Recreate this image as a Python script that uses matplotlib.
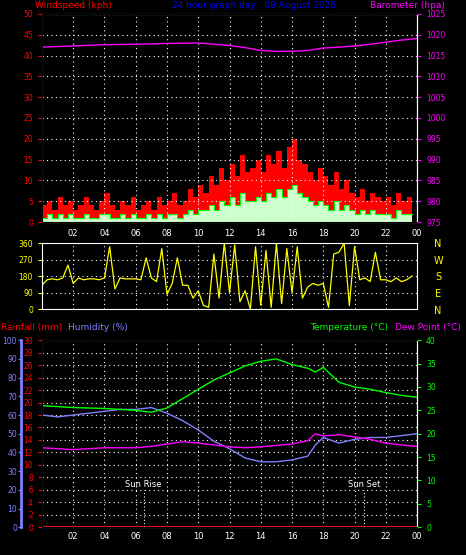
import numpy as np
import matplotlib.pyplot as plt

# --- data ---
hour_labels = ["02", "04", "06", "08", "10", "12", "14", "16", "18", "20", "22", "00"]
label_hours = [2, 4, 6, 8, 10, 12, 14, 16, 18, 20, 22, 24]

# wind, every 20 minutes (72 samples)
wind_gust = [4, 5, 3, 6, 4, 5, 3, 4, 6, 4, 3, 5, 7, 4, 3, 5, 4, 6,
             3, 4, 5, 3, 6, 4, 5, 7, 4, 5, 8, 6, 9, 7, 11, 9, 13, 10,
             14, 11, 16, 12, 13, 15, 12, 16, 14, 17, 13, 18, 20, 15, 14, 12, 10, 13,
             11, 9, 12, 8, 10, 7, 6, 8, 5, 7, 6, 5, 6, 4, 7, 5, 6, 5]
wind_avg = [1, 2, 1, 2, 1, 2, 1, 1, 2, 1, 1, 2, 2, 1, 1, 2, 1, 2,
            1, 1, 2, 1, 2, 1, 2, 2, 1, 2, 3, 2, 3, 3, 4, 3, 5, 4,
            6, 4, 7, 5, 5, 6, 5, 7, 6, 8, 6, 8, 9, 7, 6, 5, 4, 5,
            4, 3, 5, 3, 4, 3, 2, 3, 2, 3, 2, 2, 2, 1, 3, 2, 2, 2]
baro_hours = [0, 2, 4, 6, 8, 10, 12, 13, 14, 15, 16, 17, 18, 19, 20, 21, 22, 23, 24]
baro = [1017.0, 1017.3, 1017.6, 1017.7, 1017.9, 1018.0, 1017.4, 1016.9, 1016.2,
        1016.0, 1016.0, 1016.2, 1016.8, 1017.0, 1017.3, 1017.7, 1018.2, 1018.7, 1019.1]

# wind direction, every 20 minutes (72 samples)
wind_dir = [130, 160, 165, 160, 170, 240, 140, 170, 160, 165, 165, 160,
            170, 340, 110, 170, 165, 165, 165, 160, 280, 170, 150, 330,
            80, 140, 280, 130, 130, 60, 100, 20, 10, 300, 60, 360,
            90, 350, 40, 100, 0, 340, 20, 320, 10, 360, 30, 330,
            90, 340, 60, 120, 140, 130, 140, 10, 300, 310, 360, 20,
            340, 160, 170, 150, 310, 160, 160, 150, 170, 150, 160, 180]

met_hours = [0, 1, 2, 3, 4, 5, 6, 7, 8, 9, 10, 11, 12, 13, 14, 15, 16, 17,
             17.5, 18, 19, 20, 21, 22, 23, 24]
temperature = [26.0, 25.8, 25.6, 25.5, 25.4, 25.2, 25.0, 24.6, 25.5, 27.5, 29.5, 31.5,
               33.0, 34.5, 35.5, 36.0, 34.8, 34.0, 33.2, 34.2, 31.0, 30.0, 29.5, 28.8, 28.2, 27.8]
humidity = [60, 59, 60, 61, 62, 63, 63, 64, 61, 57, 52, 46,
            42, 37, 35, 35, 36, 38, 44, 48, 45, 47, 48, 48, 49, 50]
dew_point = [17.0, 16.8, 16.6, 16.8, 17.0, 17.0, 17.0, 17.3, 17.8, 18.3, 18.0, 17.6,
             17.2, 17.0, 17.2, 17.5, 17.8, 18.5, 20.0, 19.5, 19.8, 19.3, 18.8, 18.0, 17.6, 17.3]
rainfall = [0.0] * len(met_hours)
sun_rise = 6.5
sun_set = 20.6

plt.rcParams["font.family"] = "DejaVu Sans"
fig = plt.figure(figsize=(4.66, 5.55), dpi=100, facecolor="black")

RED, BLUE, MAG, GRN, YEL = "#ff0000", "#0000ff", "#ff00ff", "#00ff00", "#ffff00"
HUM = "#8080ff"


def style(ax, color_left):
    ax.set_facecolor("black")
    for s in ax.spines.values():
        s.set_color("white")
    ax.tick_params(axis="y", colors=color_left, labelsize=5.5, length=3)
    ax.tick_params(axis="x", colors="white", labelsize=6, length=0)
    ax.set_xlim(0, 24)
    ax.set_xticks(label_hours)
    ax.grid(True, color="white", linestyle=(0, (1, 3)), linewidth=0.8)


# --- top: wind + barometer ---
ax1 = fig.add_axes([0.09, 0.60, 0.805, 0.375])
style(ax1, RED)
t = np.arange(len(wind_gust)) / 3.0
ax1.fill_between(t, wind_gust, step="post", color=RED, lw=0)
ax1.fill_between(t, wind_avg, step="post", color="#ccffcc", lw=0)
ax1.step(t, wind_avg, where="post", color=GRN, lw=0.8)
ax1.set_ylim(0, 50)
ax1.set_yticks(range(0, 51, 5))
ax1.set_xticklabels([])
ax1b = ax1.twinx()
ax1b.plot(baro_hours, baro, color=MAG, lw=1)
ax1b.set_ylim(975, 1025)
ax1b.set_yticks(range(975, 1026, 5))
ax1b.tick_params(axis="y", colors=MAG, labelsize=5.5, length=3)
ax1b.spines["right"].set_color("white")
fig.text(0.075, 0.998, "Windspeed (kph)", color=RED, fontsize=6.5, va="top")
fig.text(0.37, 0.998, "24 hour graph day : 08 August 2026", color=BLUE, fontsize=6.5, va="top")
fig.text(0.795, 0.998, "Barometer (hpa)", color=MAG, fontsize=6.5, va="top")

# --- middle: wind direction ---
ax2 = fig.add_axes([0.09, 0.443, 0.805, 0.119])
style(ax2, YEL)
ax2.plot(t, wind_dir, color=YEL, lw=0.9)
ax2.set_ylim(0, 360)
ax2.set_yticks([0, 90, 180, 270, 360])
ax2.xaxis.tick_top()
ax2.set_xticklabels(hour_labels)
for i, c in enumerate("NWSEN"):
    fig.text(0.94, 0.56 - i * 0.03, c, color=YEL, fontsize=7, ha="center", va="center")

# --- bottom: temperature, humidity, rain ---
ax3 = fig.add_axes([0.09, 0.05, 0.805, 0.337])
style(ax3, RED)
ax3.set_ylim(0, 30)
ax3.set_yticks(range(0, 31, 2))
ax3.plot(met_hours, rainfall, color=RED, lw=1.5)
ax3.set_xticklabels(hour_labels)
axh = ax3.twinx()
axh.spines["right"].set_visible(False)
axh.spines["left"].set_position(("axes", -0.055))
axh.spines["left"].set_color(HUM)
axh.spines["left"].set_linewidth(2)
axh.yaxis.set_ticks_position("left")
axh.tick_params(axis="y", colors=HUM, labelsize=5.5, length=2, pad=1)
axh.set_ylim(0, 100)
axh.set_yticks(range(0, 101, 10))
axh.plot(met_hours, humidity, color=HUM, lw=1)
axt = ax3.twinx()
axt.set_ylim(0, 40)
axt.set_yticks(range(0, 41, 5))
axt.tick_params(axis="y", colors=GRN, labelsize=5.5, length=3)
axt.spines["right"].set_color("white")
axt.plot(met_hours, temperature, color=GRN, lw=1)
axt.plot(met_hours, dew_point, color=MAG, lw=1)
for h, name in [(sun_rise, "Sun Rise"), (sun_set, "Sun Set")]:
    axt.axvline(h, ymax=0.2, color="white", linestyle=(0, (1, 2)), lw=0.8)
    axt.text(h, 8.6, name, color="white", fontsize=6, ha="center")
fig.text(0.002, 0.405, "Rainfall (mm)", color=RED, fontsize=6.5)
fig.text(0.145, 0.405, "Humidity (%)", color=HUM, fontsize=6.5)
fig.text(0.665, 0.405, "Temperature (°C)", color=GRN, fontsize=6.5)
fig.text(0.848, 0.405, "Dew Point (°C)", color=MAG, fontsize=6.5)

fig.savefig("out.png", dpi=100, facecolor="black")
